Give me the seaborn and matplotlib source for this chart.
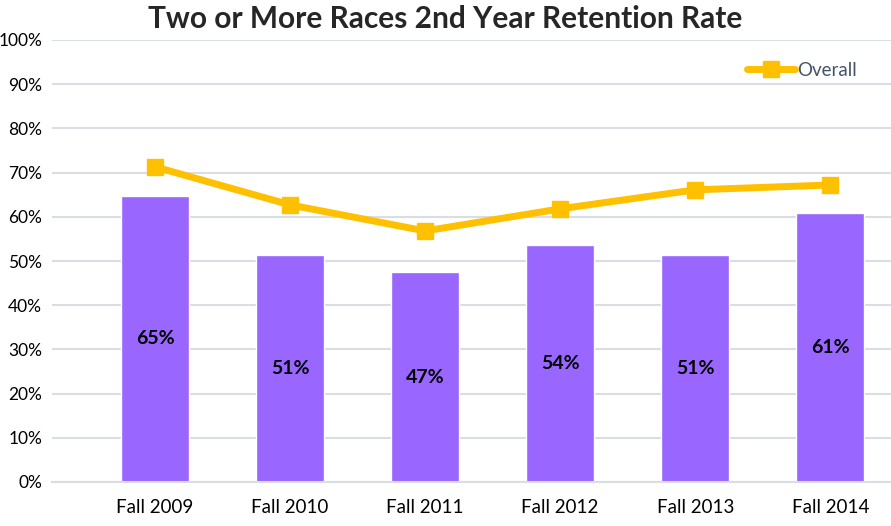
import matplotlib
matplotlib.use("Agg")
import matplotlib.pyplot as plt
import numpy as np
import pandas as pd
import seaborn as sns

# data
terms = ["Fall 2009", "Fall 2010", "Fall 2011", "Fall 2012", "Fall 2013", "Fall 2014"]
group_rate = [64.8, 51.4, 47.4, 53.7, 51.3, 60.9]
overall_rate = [71.3, 62.7, 56.8, 61.8, 66.1, 67.2]

bar_color = "#9966FF"
line_color = "#FFC000"
grid_color = "#D9DEE5"

sns.set_theme(style="white")
plt.rcParams['font.family'] = ['Lato', 'DejaVu Sans']

df = pd.DataFrame({"term": terms, "rate": group_rate, "overall": overall_rate})

fig = plt.figure(figsize=(8.91, 5.26), dpi=100)
ax = fig.add_axes([52 / 891, 1 - 482 / 526, 1 - 52 / 891, 442 / 526])

sns.barplot(data=df, x="term", y="rate", color=bar_color, width=0.5,
            saturation=1, ax=ax, zorder=2)
x = np.arange(len(terms))
ax.plot(x, df["overall"], color=line_color, lw=5, marker="s", ms=11.5,
        zorder=3, label="Overall")

# value labels in the middle of each bar
for xi, v in zip(x, group_rate):
    ax.text(xi, v / 2, f"{v:.0f}%", ha="center", va="center", fontsize=14,
            fontweight="bold", color="black", zorder=4)

ax.set_ylim(0, 100)
ax.set_xlim(-0.763, 5.45)
ax.set_yticks(range(0, 101, 10))
ax.set_yticklabels([f"{t}%" for t in range(0, 101, 10)])
ax.yaxis.grid(True, color=grid_color, lw=1.5, zorder=0)
ax.set_axisbelow(True)
ax.set_xlabel("")
ax.set_ylabel("")
for s in ["top", "right", "left"]:
    ax.spines[s].set_visible(False)
ax.spines["bottom"].set_color(grid_color)
ax.spines["bottom"].set_linewidth(1.5)
ax.tick_params(axis="both", length=0, colors="black")
ax.tick_params(axis="x", labelsize=13.5, pad=12)
ax.tick_params(axis="y", labelsize=12.5, pad=7)

leg = ax.legend(loc="upper right", bbox_to_anchor=(0.975, 0.98), frameon=False,
                fontsize=13.5, handlelength=2.6, handletextpad=0.1,
                borderaxespad=0.3)
for t in leg.get_texts():
    t.set_color("#44546A")

fig.suptitle("Two or More Races 2nd Year Retention Rate", x=0.5, y=0.99,
             fontsize=21.5, fontweight="bold")

fig.savefig("out.png", dpi=100)
